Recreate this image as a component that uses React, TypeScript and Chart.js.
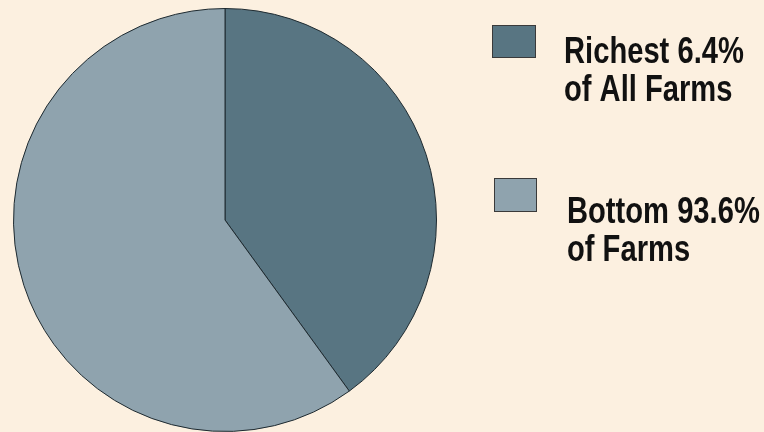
import React, { useEffect, useRef } from "react";
import { Chart, registerables } from "chart.js";

Chart.register(...registerables);

const categories: string[] = ["Richest 6.4% of All Farms", "Bottom 93.6% of Farms"];
const legendLines: string[][] = [
  ["Richest 6.4%", "of All Farms"],
  ["Bottom 93.6%", "of Farms"],
];
const shares: number[] = [40, 60];
const sliceColors: string[] = ["#587582", "#8fa3ae"];

const BG = "#fcf0e0";

const legendPlugin = {
  id: "customLegend",
  afterDraw(chart: any) {
    const ctx = chart.ctx;
    const ds = chart.data.datasets[0];
    const boxes = [
      { x: 492, y: 25, w: 44, h: 33, tx: 564, ty: 63 },
      { x: 494, y: 178, w: 43, h: 34, tx: 567, ty: 223 },
    ];
    ctx.save();
    boxes.forEach((b, i) => {
      ctx.fillStyle = ds.backgroundColor[i];
      ctx.fillRect(b.x, b.y, b.w, b.h);
      ctx.strokeStyle = "#3a3a3a";
      ctx.lineWidth = 1;
      ctx.strokeRect(b.x + 0.5, b.y + 0.5, b.w - 1, b.h - 1);
      ctx.fillStyle = "#111111";
      ctx.font = "bold 36px 'Liberation Sans', Arial, sans-serif";
      ctx.textBaseline = "alphabetic";
      ctx.textAlign = "left";
      legendLines[i].forEach((line, j) => {
        ctx.save();
        ctx.translate(b.tx, b.ty + j * 38);
        ctx.scale(0.81, 1);
        ctx.fillText(line, 0, 0);
        ctx.restore();
      });
    });
    ctx.restore();
  },
};

const bgPlugin = {
  id: "bg",
  beforeDraw(chart: any) {
    const ctx = chart.ctx;
    ctx.save();
    ctx.fillStyle = BG;
    ctx.fillRect(0, 0, chart.width, chart.height);
    ctx.restore();
  },
};

export default function App() {
  const ref = useRef<HTMLCanvasElement | null>(null);
  useEffect(() => {
    document.body.style.margin = "0";
    document.body.style.background = BG;
    const chart = new Chart(ref.current as HTMLCanvasElement, {
      type: "pie",
      data: {
        labels: categories,
        datasets: [
          {
            data: shares,
            backgroundColor: sliceColors,
            borderColor: "#1e2a30",
            borderWidth: 1,
          },
        ],
      },
      options: {
        responsive: false,
        animation: false,
        layout: { padding: { left: 13, top: 8, right: 327, bottom: 0 } },
        plugins: {
          legend: { display: false },
          tooltip: { enabled: false },
        },
      },
      plugins: [bgPlugin, legendPlugin],
    });
    return () => chart.destroy();
  }, []);
  return (
    <div style={{ position: "absolute", left: 0, top: 0, width: 764, height: 432, background: BG }}>
      <canvas ref={ref} width={764} height={432} />
    </div>
  );
}
